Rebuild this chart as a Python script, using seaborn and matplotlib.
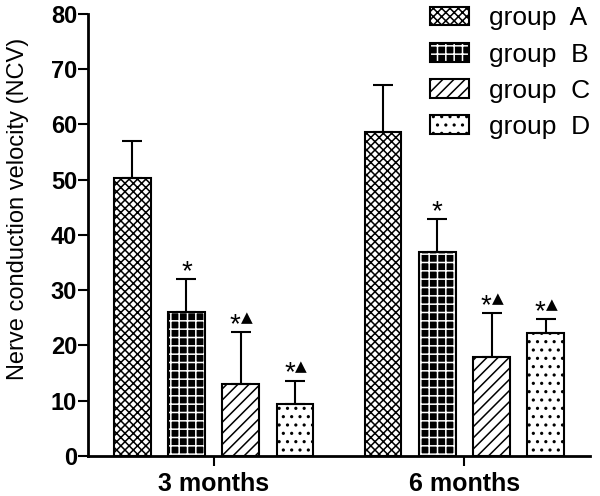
import matplotlib
matplotlib.use("Agg")
import matplotlib.pyplot as plt
from matplotlib.patches import Patch
import numpy as np
import pandas as pd
import seaborn as sns

# data
times = ["3 months", "6 months"]
groups = ["group A", "group B", "group C", "group D"]
mean_a = [50.3, 58.7]
mean_b = [26.1, 36.9]
mean_c = [13.0, 17.9]
mean_d = [9.4, 22.3]
sd_a = [6.7, 8.4]
sd_b = [5.9, 5.9]
sd_c = [9.4, 8.0]
sd_d = [4.2, 2.5]
# significance marks: star = vs group A, triangle = vs group B
star_a = [False, False]
star_b = [True, True]
star_c = [True, True]
star_d = [True, True]
tri_a = [False, False]
tri_b = [False, False]
tri_c = [True, True]
tri_d = [True, True]

means = [mean_a, mean_b, mean_c, mean_d]
sds = [sd_a, sd_b, sd_c, sd_d]
stars = [star_a, star_b, star_c, star_d]
tris = [tri_a, tri_b, tri_c, tri_d]

df = pd.DataFrame(
    {
        "time": times * len(groups),
        "group": [g for g in groups for _ in times],
        "ncv": [v for m in means for v in m],
    }
)

sns.set_theme(style="ticks")
plt.rcParams["font.family"] = ["Liberation Sans", "DejaVu Sans"]
plt.rcParams["hatch.linewidth"] = 1.1
# pure black text and ticks, like the reference
for key in ["text.color", "axes.labelcolor", "xtick.color", "ytick.color",
            "axes.edgecolor"]:
    plt.rcParams[key] = "black"

fig = plt.figure(figsize=(6, 4.96), dpi=100)
ax = fig.add_axes([0.147, 0.081, 0.836, 0.891])

sns.barplot(
    data=df, x="time", y="ncv", hue="group", hue_order=groups,
    palette=["white"] * 4, errorbar=None, width=0.865, gap=0.32,
    edgecolor="black", linewidth=1.5, legend=False, ax=ax,
)

# fill styles: (face, hatch, hatch colour)
styles = [
    ("white", "xxxx", "black"),
    ("black", "++", "white"),
    ("white", "///", "black"),
    ("white", "..", "black"),
]

for cont, (fc, hatch, hc), sd, st, tr in zip(ax.containers, styles, sds,
                                             stars, tris):
    xs, tops = [], []
    for p in cont.patches:
        p.set_facecolor(fc)
        p.set_edgecolor("black")
        p.set_hatch(hatch)
        p._hatch_color = matplotlib.colors.to_rgba(hc)
        xs.append(p.get_x() + p.get_width() / 2)
        tops.append(p.get_height())
    ax.errorbar(xs, tops, yerr=[np.zeros(len(sd)), sd], fmt="none",
                ecolor="black", elinewidth=1.5, capsize=7, capthick=1.5,
                zorder=1)
    for x, t, s, has_star, has_tri in zip(xs, tops, sd, st, tr):
        dx = -4 if has_tri else 0
        if has_star:
            ax.annotate("*", (x, t + s), xytext=(dx, 0),
                        textcoords="offset points", ha="center",
                        va="baseline", fontsize=20, color="black")
        if has_tri:
            ax.annotate("\u25B2", (x, t + s), xytext=(4.5, 7),
                        textcoords="offset points", ha="center",
                        va="baseline", fontsize=11, color="black",
                        family="DejaVu Sans")

ax.set_ylim(0, 80)
ax.set_xlim(-0.5, 1.5)
ax.set_yticks(range(0, 81, 10))
ax.set_xlabel("")
ax.set_ylabel("Nerve conduction velocity (NCV)", fontsize=17, color="black")
ax.yaxis.set_label_coords(-0.1176, 0.559)
ax.tick_params(axis="both", direction="out", length=7, width=1.5,
               color="black", labelcolor="black", labelsize=17, pad=1)
for lbl in ax.get_xticklabels() + ax.get_yticklabels():
    lbl.set_fontweight("bold")
ax.tick_params(axis="x", labelsize=18, pad=5)
sns.despine(ax=ax)
for side in ["left", "bottom"]:
    ax.spines[side].set_linewidth(2)
    ax.spines[side].set_color("black")

handles = []
for (fc, hatch, hc), g in zip(styles, groups):
    h = Patch(facecolor=fc, edgecolor="black", hatch=hatch, linewidth=1.5,
              label=g)
    h._hatch_color = matplotlib.colors.to_rgba(hc)
    handles.append(h)
fig.legend(handles=handles, labels=[g.replace(" ", "  ") for g in groups],
           loc="upper right", bbox_to_anchor=(1.023, 1.035), frameon=False,
           fontsize=19, handlelength=1.5, handleheight=0.7,
           handletextpad=0.75, labelspacing=0.46, labelcolor="black")

fig.savefig("out.png", dpi=100)
